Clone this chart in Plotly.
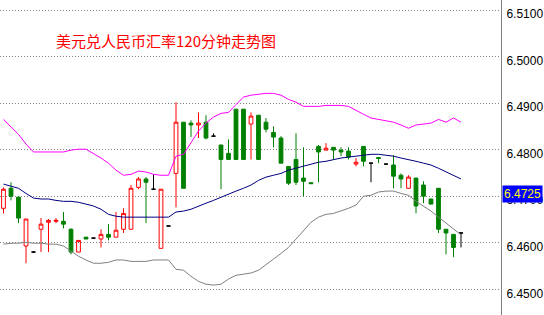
import plotly.graph_objects as go

# ---- data (USD/CNY 120-minute candles) ----
open_ = [6.4674, 6.4717, 6.4698, 6.4593, 6.4580, 6.4629, 6.4644, 6.4646, 6.4646, 6.4629,
         6.4580, 6.4612, 6.4610, 6.4608, 6.4618, 6.4612, 6.4629, 6.4629, 6.4719, 6.4737,
         6.4715, 6.4588, 6.4636, 6.4749, 6.4859, 6.4857, 6.4853, 6.4859, 6.4829, 6.4810,
         6.4792, 6.4887, 6.4887, 6.4855, 6.4874, 6.4859, 6.4837, 6.4825, 6.4764, 6.4779,
         6.4739, 6.4729, 6.4807, 6.4799, 6.4805, 6.4799, 6.4797, 6.4769, 6.4807, 6.4771,
         6.4783, 6.4769, 6.4767, 6.4745, 6.4717, 6.4739, 6.4724, 6.4694, 6.4717, 6.4629,
         6.4618, 6.4621]
high = [6.4719, 6.4730, 6.4698, 6.4651, 6.4582, 6.4653, 6.4651, 6.4653, 6.4666, 6.4631,
        6.4605, 6.4612, 6.4610, 6.4629, 6.4640, 6.4666, 6.4674, 6.4724, 6.4741, 6.4741,
        6.4747, 6.4715, 6.4636, 6.4902, 6.4859, 6.4863, 6.4880, 6.4874, 6.4835, 6.4810,
        6.4822, 6.4887, 6.4887, 6.4880, 6.4874, 6.4868, 6.4850, 6.4829, 6.4764, 6.4835,
        6.4805, 6.4729, 6.4810, 6.4814, 6.4805, 6.4805, 6.4805, 6.4782, 6.4807, 6.4771,
        6.4783, 6.4769, 6.4788, 6.4749, 6.4745, 6.4739, 6.4732, 6.4694, 6.4717, 6.4629,
        6.4618, 6.4621]
low = [6.4663, 6.4691, 6.4642, 6.4556, 6.4578, 6.4580, 6.4580, 6.4642, 6.4631, 6.4575,
       6.4580, 6.4608, 6.4610, 6.4590, 6.4605, 6.4612, 6.4621, 6.4629, 6.4715, 6.4642,
       6.4715, 6.4588, 6.4636, 6.4676, 6.4717, 6.4827, 6.4825, 6.4822, 6.4829, 6.4715,
       6.4779, 6.4779, 6.4779, 6.4779, 6.4779, 6.4837, 6.4805, 6.4771, 6.4724, 6.4724,
       6.4700, 6.4727, 6.4730, 6.4799, 6.4779, 6.4786, 6.4779, 6.4764, 6.4764, 6.4730,
       6.4771, 6.4769, 6.4717, 6.4717, 6.4717, 6.4663, 6.4685, 6.4683, 6.4621, 6.4575,
       6.4569, 6.4590]
close = [6.4715, 6.4700, 6.4653, 6.4651, 6.4580, 6.4640, 6.4648, 6.4648, 6.4640, 6.4580,
         6.4605, 6.4608, 6.4610, 6.4618, 6.4612, 6.4627, 6.4663, 6.4717, 6.4737, 6.4730,
         6.4715, 6.4715, 6.4636, 6.4859, 6.4717, 6.4853, 6.4857, 6.4825, 6.4829, 6.4779,
         6.4779, 6.4779, 6.4779, 6.4872, 6.4779, 6.4844, 6.4827, 6.4771, 6.4728, 6.4730,
         6.4732, 6.4727, 6.4795, 6.4803, 6.4799, 6.4795, 6.4784, 6.4773, 6.4775, 6.4771,
         6.4781, 6.4769, 6.4743, 6.4737, 6.4741, 6.4679, 6.4700, 6.4683, 6.4629, 6.4621,
         6.4590, 6.4621]
doji_idx = [4, 12, 20, 22, 28, 49, 51, 61]

upper_band = [6.4865, 6.4850, 6.4833, 6.4812, 6.4795, 6.4795, 6.4795, 6.4795, 6.4795, 6.4799,
              6.4801, 6.4801, 6.4792, 6.4782, 6.4771, 6.4756, 6.4745, 6.4747, 6.4754, 6.4752,
              6.4747, 6.4745, 6.4745, 6.4786, 6.4790, 6.4814, 6.4840, 6.4857, 6.4870, 6.4878,
              6.4880, 6.4897, 6.4913, 6.4917, 6.4919, 6.4921, 6.4921, 6.4917, 6.4908, 6.4902,
              6.4893, 6.4893, 6.4893, 6.4895, 6.4895, 6.4895, 6.4893, 6.4884, 6.4876, 6.4868,
              6.4865, 6.4863, 6.4859, 6.4853, 6.4846, 6.4853, 6.4855, 6.4857, 6.4865, 6.4859,
              6.4868, 6.4859]
middle_band = [6.4726, 6.4721, 6.4717, 6.4706, 6.4696, 6.4694, 6.4694, 6.4691, 6.4689, 6.4689,
               6.4687, 6.4683, 6.4679, 6.4672, 6.4661, 6.4657, 6.4655, 6.4655, 6.4655, 6.4655,
               6.4655, 6.4655, 6.4655, 6.4666, 6.4668, 6.4672, 6.4679, 6.4685, 6.4691, 6.4698,
               6.4704, 6.4711, 6.4717, 6.4724, 6.4734, 6.4741, 6.4745, 6.4749, 6.4756, 6.4760,
               6.4764, 6.4769, 6.4773, 6.4775, 6.4779, 6.4782, 6.4784, 6.4786, 6.4788, 6.4790,
               6.4790, 6.4788, 6.4786, 6.4782, 6.4779, 6.4775, 6.4771, 6.4767, 6.4760, 6.4752,
               6.4745, 6.4737]
lower_band = [6.4597, 6.4599, 6.4599, 6.4601, 6.4599, 6.4599, 6.4597, 6.4597, 6.4593, 6.4582,
              6.4571, 6.4563, 6.4556, 6.4556, 6.4558, 6.4563, 6.4563, 6.4560, 6.4560, 6.4560,
              6.4563, 6.4563, 6.4563, 6.4543, 6.4541, 6.4528, 6.4517, 6.4511, 6.4509, 6.4511,
              6.4522, 6.4530, 6.4532, 6.4535, 6.4541, 6.4554, 6.4565, 6.4577, 6.4590, 6.4608,
              6.4627, 6.4644, 6.4655, 6.4661, 6.4663, 6.4668, 6.4674, 6.4681, 6.4700, 6.4702,
              6.4709, 6.4711, 6.4711, 6.4706, 6.4702, 6.4689, 6.4679, 6.4668, 6.4655, 6.4642,
              6.4631, 6.4617]
y_ticks = [6.45, 6.46, 6.47, 6.48, 6.49, 6.50, 6.51]
last_price_label = "6.4725"
last_price = 6.4725
title_text = "美元兑人民币汇率120分钟走势图"

# ---- figure ----
n = len(open_)
idx = list(range(n))
main_idx = [i for i in idx if i not in doji_idx]

fig = go.Figure()
fig.add_trace(go.Candlestick(
    x=main_idx,
    open=[open_[i] for i in main_idx], high=[high[i] for i in main_idx],
    low=[low[i] for i in main_idx], close=[close[i] for i in main_idx],
    increasing=dict(line=dict(color="#FF0000", width=1), fillcolor="rgba(0,0,0,0)"),
    decreasing=dict(line=dict(color="#008000", width=1), fillcolor="#008000"),
    whiskerwidth=0, hoverinfo="skip", showlegend=False))
fig.add_trace(go.Candlestick(
    x=doji_idx,
    open=[open_[i] for i in doji_idx], high=[high[i] for i in doji_idx],
    low=[low[i] for i in doji_idx], close=[close[i] for i in doji_idx],
    increasing=dict(line=dict(color="#000000", width=1), fillcolor="#000000"),
    decreasing=dict(line=dict(color="#000000", width=1), fillcolor="#000000"),
    whiskerwidth=0, hoverinfo="skip", showlegend=False))

for vals, col in [(upper_band, "#FF00FF"), (middle_band, "#000080"), (lower_band, "#808080")]:
    fig.add_trace(go.Scatter(x=idx, y=vals, mode="lines",
                             line=dict(color=col, width=1), hoverinfo="skip", showlegend=False))

fig.update_layout(
    width=544, height=315,
    margin=dict(l=0, r=43, t=0, b=0),
    paper_bgcolor="white", plot_bgcolor="white",
    boxgap=0.28,
    showlegend=False,
    xaxis=dict(range=[-0.4667, 66.333], visible=False, showgrid=False,
               rangeslider=dict(visible=False), fixedrange=True),
    yaxis=dict(range=[6.44448, 6.51215], side="right", tickvals=y_ticks,
               tickformat=".4f", showgrid=True, gridcolor="#808080", gridwidth=1,
               griddash="1px,2px", zeroline=False, showline=True, linecolor="#808080",
               linewidth=1, ticks="", ticklabelstandoff=2, ticklabelshift=4,
               tickfont=dict(family="Liberation Sans", size=12, color="#000000"),
               automargin=False, fixedrange=True),
    annotations=[
        dict(text=title_text, xref="paper", yref="paper", x=54/501, y=1-41/315,
             xanchor="left", yanchor="middle", showarrow=False,
             font=dict(family="Noto Sans CJK SC", size=15, color="#FF0000")),
        dict(text=last_price_label, xref="paper", yref="y", x=1, y=last_price,
             xanchor="left", yanchor="middle", xshift=1, yshift=-9, showarrow=False,
             bgcolor="#0000FF", borderpad=1,
             font=dict(family="Liberation Sans", size=12, color="#FFFF00")),
    ],
)

fig.write_html("out.html")
